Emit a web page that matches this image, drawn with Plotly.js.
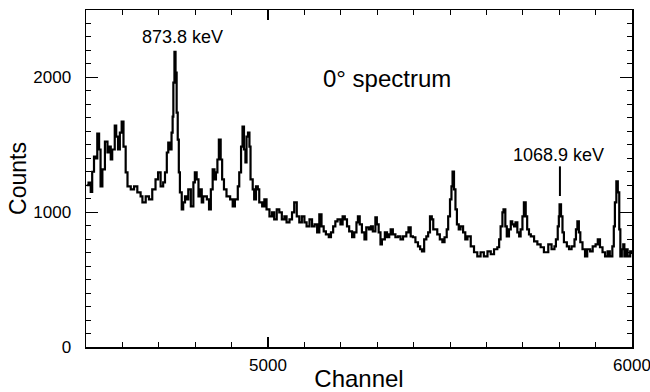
<!DOCTYPE html>
<html>
<head>
<meta charset="utf-8">
<script src="https://cdn.plot.ly/plotly-3.0.1.min.js"></script>
<style>html,body{margin:0;padding:0;background:#fff;}#chart{width:650px;height:392px;}</style>
</head>
<body>
<div id="chart"></div>
<script>
// Spectrum data (channel, counts)
const channels = [
4502,4507,4513,4517,4522,4527,4531,4536,4540,4545,4552,4559,4563,4568,4572,4579,4583,4588,4593,4598,
4603,4609,4614,4623,4632,4641,4650,4655,4664,4673,4682,4691,4698,4705,
4712,4717,4722,4726,4731,4735,4738,4740,4743,4746,4749,4752,4755,4758,4763,4767,4772,4777,4781,4788,
4795,4799,4804,4809,4813,4818,4822,4832,4838,4843,4848,4853,4857,4861,4865,4870,4874,4879,4886,4896,4903,4909,
4917,4921,4926,4930,4934,4938,4941,4945,4949,4952,4958,4962,4967,4972,4976,4984,4990,4996,5004,5011,
5017,5024,5031,5038,5045,5051,5059,5066,5072,5079,5086,5093,5100,5106,5114,5121,
5128,5135,5141,5147,5153,5159,5167,5173,5179,5185,5191,5199,5205,5211,5217,5223,5231,5237,5243,5247,
5252,5258,5265,5270,5277,5283,5288,5295,5299,5304,5309,5313,5321,5327,5333,
5337,5343,5350,5357,5364,5371,5380,5386,5392,5398,5405,5412,5418,5423,5429,5435,5440,5445,5450,5454,
5460,5465,5472,5479,5485,5491,5495,5500,5504,5507,5511,5515,5519,5524,5529,5536,5542,
5548,5557,5566,5575,5584,5593,5603,5612,5621,5630,5635,5639,5644,5647,5652,5656,5662,5667,5671,5676,
5680,5685,5690,5694,5699,5703,5708,5712,5717,5722,5731,5740,5749,5758,
5770,5779,5787,5791,5796,5799,5801,5805,5809,5813,5821,5827,5834,5842,5846,5850,5854,5858,5864,5871,
5877,5885,5892,5900,5906,5912,5919,5926,5933,5939,5946,5950,5953,5957,5961,5965,5968,5972,5976,5979,
5984,5988,5995,5999
];
const counts = [
1200,1220,1150,1300,1413,1400,1584,1465,1191,1317,1524,1443,1487,1391,1465,1643,1561,1465,1591,1672,
1487,1295,1191,1169,1191,1147,1117,1073,1117,1095,1169,1243,1295,1191,
1221,1295,1443,1517,1465,1591,1709,1961,2190,2035,1739,1539,1295,1147,1021,1073,1117,1095,1169,1043,
1221,1295,1243,1117,1169,1073,1117,1095,1021,1169,1317,1243,1295,1391,1539,1391,1243,1169,1117,1095,1043,1095,
1191,1295,1487,1635,1465,1369,1561,1591,1487,1243,1169,1095,1191,1169,1073,1043,1095,1021,969,999,
947,1021,999,947,969,925,947,999,1073,969,925,969,925,895,947,895,
910,851,984,895,858,836,814,851,895,932,947,910,969,947,895,858,814,851,925,969,
910,851,799,888,873,895,858,962,910,851,762,799,851,814,836,
873,836,814,821,799,821,851,888,821,814,777,747,725,710,799,821,851,969,947,873,
873,836,799,777,814,873,969,1095,1191,1302,1169,1021,910,873,895,851,799,
821,747,703,673,703,673,710,688,725,740,799,895,999,1021,895,821,873,932,910,895,
925,851,821,873,969,1073,969,873,836,821,784,762,740,703,
762,725,747,799,895,969,1058,969,851,777,747,725,747,799,873,932,851,777,725,673,
725,710,747,762,799,740,703,673,710,673,747,895,1073,1228,1147,873,673,725,762,673,
725,673,710,690
];

// Peak marker for the 1068.9 keV line
const markerChannel = [5802, 5802];
const markerCounts = [1120, 1340];

// Text labels
const labelTexts = ["873.8 keV", "1068.9 keV", "0° spectrum"];
const labelChannels = [4765, 5797, 5327];
const labelCounts = [2300, 1424, 1995];
const labelSizes = [18, 18, 24];

// Axis ticks
const xTickVals = [5000, 6000];
const xTickText = ["5000", "6000"];
const yTickVals = [0, 1000, 2000];
const yTickText = ["0", "1000", "2000"];

const font = "Liberation Sans, Arial, Helvetica, sans-serif";

const traces = [
  {
    x: channels, y: counts, type: 'scatter', mode: 'lines',
    line: {color: '#000', width: 2.2, shape: 'hv'},
    hoverinfo: 'skip', showlegend: false
  },
  {
    x: markerChannel, y: markerCounts, type: 'scatter', mode: 'lines',
    line: {color: '#000', width: 2},
    hoverinfo: 'skip', showlegend: false
  },
  {
    x: [], y: [], xaxis: 'x2', yaxis: 'y2', type: 'scatter', mode: 'lines',
    hoverinfo: 'skip', showlegend: false
  }
];

const annotations = labelTexts.map((t, i) => ({
  text: t, x: labelChannels[i], y: labelCounts[i], xref: 'x', yref: 'y',
  showarrow: false, xanchor: 'center', yanchor: 'middle',
  font: {family: font, size: labelSizes[i], color: '#000'}
}));

const minorX = {dtick: 100, tick0: 4500, ticks: 'inside', ticklen: 5, tickwidth: 1, tickcolor: '#000', showgrid: false};
const minorY = {dtick: 100, tick0: 0, ticks: 'inside', ticklen: 5, tickwidth: 1, tickcolor: '#000', showgrid: false};

const layout = {
  width: 650, height: 392,
  margin: {l: 86, r: 18, t: 10, b: 45, pad: 0},
  paper_bgcolor: '#fff', plot_bgcolor: '#fff',
  font: {family: font, color: '#000'},
  showlegend: false,
  xaxis: {
    range: [4500, 6000], tickvals: xTickVals, ticktext: xTickText,
    ticks: 'inside', ticklen: 10, tickwidth: 1.2, tickcolor: '#000',
    minor: minorX,
    showline: true, linecolor: '#000', linewidth: 1.5, mirror: true,
    showgrid: false, zeroline: false,
    tickfont: {family: font, size: 17, color: '#000'},
    ticklabelstandoff: 2, ticklabeloverflow: 'allow',
    title: {text: 'Channel', font: {family: font, size: 24, color: '#000'}, standoff: 0}
  },
  yaxis: {
    range: [0, 2500], tickvals: yTickVals, ticktext: yTickText,
    ticks: 'inside', ticklen: 12, tickwidth: 1.2, tickcolor: '#000',
    minor: minorY,
    showline: true, linecolor: '#000', linewidth: 1.5, mirror: true,
    showgrid: false, zeroline: false,
    tickfont: {family: font, size: 17, color: '#000'},
    ticklabelstandoff: 10, ticklabeloverflow: 'allow',
    title: {text: 'Counts', font: {family: font, size: 23, color: '#000'}, standoff: 0}
  },
  xaxis2: {
    overlaying: 'x', side: 'top', anchor: 'y2',
    range: [4500, 6000], tickvals: xTickVals, showticklabels: false,
    ticks: 'inside', ticklen: 10, tickwidth: 1.2, tickcolor: '#000',
    minor: minorX, showline: false, showgrid: false, zeroline: false
  },
  yaxis2: {
    overlaying: 'y', side: 'right', anchor: 'x2',
    range: [0, 2500], tickvals: yTickVals, showticklabels: false,
    ticks: 'inside', ticklen: 12, tickwidth: 1.2, tickcolor: '#000',
    minor: minorY, showline: false, showgrid: false, zeroline: false
  },
  annotations: annotations
};

Plotly.newPlot('chart', traces, layout, {staticPlot: true, displayModeBar: false});
</script>
</body>
</html>
